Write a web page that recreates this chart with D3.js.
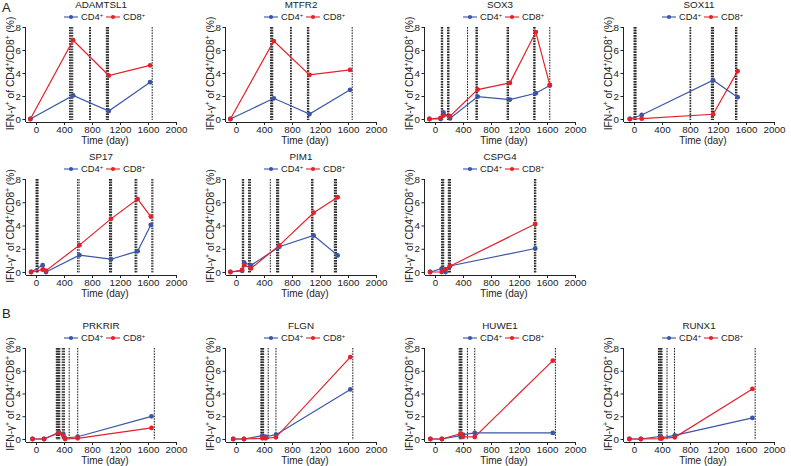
<!DOCTYPE html>
<html><head><meta charset="utf-8">
<script src="https://cdn.jsdelivr.net/npm/d3@7/dist/d3.min.js"></script>
<style>body{margin:0;background:#fff}svg{display:block}text{font-family:"Liberation Sans",Arial,sans-serif;fill:#222}</style>
</head><body><svg id="c" width="791" height="466"></svg>
<script>
// ---- tick labels ----
const xTicks = [0, 400, 800, 1200, 1600, 2000];
const yTicks = [0, 2, 4, 6, 8];
const seriesNames = ["CD4", "CD8"];
const sectionLabels = ["A", "B"];

// ---- data (day, % IFN-γ+) ----
const adamtsl1Days = [-80, 530, 1040, 1630];
const adamtsl1CD4 = [0, 2.05, 0.7, 3.2];
const adamtsl1CD8 = [0, 6.85, 3.78, 4.67];
const adamtsl1Vax = [480, 495, 510, 525, 765, 778, 1005, 1015, 1025, 1035, 1660];

const mtfr2Days = [-80, 540, 1050, 1630];
const mtfr2CD4 = [0, 1.8, 0.43, 2.54];
const mtfr2CD8 = [0, 6.78, 3.84, 4.27];
const mtfr2Vax = [495, 505, 515, 525, 780, 790, 1020, 1030, 1040, 1660];

const sox3Days = [-80, 80, 120, 215, 610, 1070, 1440, 1640];
const sox3CD4 = [0, 0, 0.58, 0.05, 1.95, 1.69, 2.24, 2.91];
const sox3CD8 = [0, 0.1, 0.3, 0.25, 2.56, 3.14, 7.56, 2.97];
const sox3Vax = [90, 100, 110, 180, 190, 200, 465, 585, 595, 605, 1030, 1040, 1050, 1410, 1420, 1430, 1640];

const sox11Days = [-60, 110, 1130, 1480];
const sox11CD4 = [0, 0.35, 3.37, 1.9];
const sox11CD8 = [0, 0.03, 0.41, 4.16];
const sox11Vax = [0, 10, 20, 30, 800, 810, 1105, 1115, 1125, 1135, 1450, 1460, 1470];

const sp17Days = [-70, 95, 143, 620, 1071, 1452, 1640];
const sp17CD4 = [0, 0.58, 0.0, 1.45, 1.1, 1.79, 4.05];
const sp17CD8 = [0, 0.2, 0.12, 2.31, 4.57, 6.27, 4.77];
const sp17Vax = [0, 10, 20, 30, 595, 615, 1050, 1060, 1070, 1080, 1415, 1425, 1440, 1655, 1670];

const pim1Days = [-80, 86, 119, 214, 619, 1109, 1452];
const pim1CD4 = [0, 0.1, 0.8, 0.57, 2.17, 3.14, 1.43];
const pim1CD8 = [0, 0.17, 0.6, 0.31, 2.29, 5.1, 6.43];
const pim1Vax = [90, 100, 110, 180, 195, 205, 490, 580, 590, 600, 610, 1080, 1090, 1100, 1405, 1415, 1425, 1435];

const cspg4Days = [-70, 95, 151, 212, 1432];
const cspg4CD4 = [0, 0.29, 0, 0.52, 2.02];
const cspg4CD8 = [0, 0, 0.25, 0.5, 4.13];
const cspg4Vax = [95, 105, 115, 125, 190, 200, 210, 220, 1420, 1430, 1440];

const prkrirDays = [-50, 116, 326, 390, 415, 595, 1650];
const prkrirCD4 = [0, 0, 0.59, 0.44, 0.08, 0.2, 1.99];
const prkrirCD8 = [0, 0, 0.53, 0.3, 0, 0.06, 0.97];
const prkrirVax = [290, 300, 310, 320, 330, 340, 375, 390, 405, 474, 596, 1690];

const flgnDays = [-40, 114, 377, 423, 571, 1633];
const flgnCD4 = [0, 0, 0.29, 0.2, 0.38, 4.36];
const flgnCD8 = [0, 0, 0.06, 0.06, 0.15, 7.2];
const flgnVax = [355, 365, 375, 385, 395, 460, 571, 1669];

const huwe1Days = [-66, 98, 366, 400, 568, 1683];
const huwe1CD4 = [0, 0, 0.3, 0.38, 0.53, 0.53];
const huwe1CD8 = [0, 0, 0.47, 0.2, 0.18, 6.89];
const huwe1Vax = [345, 355, 365, 375, 385, 463, 568, 1720];

const runx1Days = [-66, 98, 376, 395, 582, 1692];
const runx1CD4 = [0, 0, 0.23, 0.1, 0.32, 1.85];
const runx1CD8 = [0, 0, 0.03, 0.05, 0.15, 4.4];
const runx1Vax = [350, 360, 370, 380, 390, 400, 472, 578, 1731];

const panels = [
  {title: "ADAMTSL1", days: adamtsl1Days, cd4: adamtsl1CD4, cd8: adamtsl1CD8, vax: adamtsl1Vax},
  {title: "MTFR2", days: mtfr2Days, cd4: mtfr2CD4, cd8: mtfr2CD8, vax: mtfr2Vax},
  {title: "SOX3", days: sox3Days, cd4: sox3CD4, cd8: sox3CD8, vax: sox3Vax},
  {title: "SOX11", days: sox11Days, cd4: sox11CD4, cd8: sox11CD8, vax: sox11Vax},
  {title: "SP17", days: sp17Days, cd4: sp17CD4, cd8: sp17CD8, vax: sp17Vax},
  {title: "PIM1", days: pim1Days, cd4: pim1CD4, cd8: pim1CD8, vax: pim1Vax},
  {title: "CSPG4", days: cspg4Days, cd4: cspg4CD4, cd8: cspg4CD8, vax: cspg4Vax},
  {title: "PRKRIR", days: prkrirDays, cd4: prkrirCD4, cd8: prkrirCD8, vax: prkrirVax},
  {title: "FLGN", days: flgnDays, cd4: flgnCD4, cd8: flgnCD8, vax: flgnVax},
  {title: "HUWE1", days: huwe1Days, cd4: huwe1CD4, cd8: huwe1CD8, vax: huwe1Vax},
  {title: "RUNX1", days: runx1Days, cd4: runx1CD4, cd8: runx1CD8, vax: runx1Vax}
];

// ---- layout ----
const colX0 = [36, 236, 435, 634];
const rowY = [[27, 119], [179, 272], [348, 439]];
const grid = [[0,0],[0,1],[0,2],[0,3],[1,0],[1,1],[1,2],[2,0],[2,1],[2,2],[2,3]];
const PX_PER_DAY = 0.07;
const X_MIN = -150;
const BLUE = "#3a56a5", RED = "#e3212a";
const FONT = '"Liberation Sans",Arial,sans-serif';

const svg = d3.select("#c");

function supText(sel, parts, fs) {
  let lastSup = false;
  parts.forEach(([s, sup]) => {
    const t = sel.append("tspan").text(s);
    if (sup) t.attr("dy", -fs * 0.38).attr("font-size", fs * 0.62);
    else if (lastSup) t.attr("dy", fs * 0.38);
    lastSup = sup;
  });
}

panels.forEach((p, i) => {
  const [r, c] = grid[i];
  const x0 = colX0[c];
  const [yTop, yBot] = rowY[r];
  const x = d3.scaleLinear().domain([X_MIN, 2000]).range([x0 + X_MIN * PX_PER_DAY, x0 + 2000 * PX_PER_DAY]);
  const y = d3.scaleLinear().domain([0, 8]).range([yBot, yTop]);
  const axY = yBot + 3;
  const axX = x(X_MIN);
  const g = svg.append("g");

  // vaccination lines
  g.selectAll("line.vax").data(p.vax).join("line")
    .attr("x1", d => x(d)).attr("x2", d => x(d))
    .attr("y1", yTop).attr("y2", yBot + 1)
    .attr("stroke", "#1a1a1a").attr("stroke-width", 1).attr("stroke-dasharray", "1.6,1.1");

  // axes
  const xa = g.append("g").attr("transform", `translate(0,${axY})`)
    .call(d3.axisBottom(x).tickValues(xTicks).tickFormat(d3.format("d")).tickSize(3).tickSizeOuter(0).tickPadding(1));
  xa.selectAll("text").attr("font-size", 9.8).attr("font-family", FONT).attr("fill", "#222");
  xa.selectAll("line,path").attr("stroke", "#222");

  const ya = g.append("g").attr("transform", `translate(${axX},0)`)
    .call(d3.axisLeft(y).tickValues(yTicks).tickFormat(d3.format("d")).tickSize(3).tickPadding(1.5));
  ya.select(".domain").remove();
  ya.selectAll("text").attr("font-size", 9.8).attr("font-family", FONT).attr("fill", "#222");
  ya.selectAll("line").attr("stroke", "#222");
  g.append("line").attr("x1", axX).attr("x2", axX).attr("y1", yTop).attr("y2", axY).attr("stroke", "#222");

  // axis titles
  g.append("text").attr("x", x0 + 69).attr("y", yBot + 25).attr("text-anchor", "middle").attr("font-size", 10).text("Time (day)");
  const yl = g.append("text").attr("transform", `translate(${axX - 12},${(yTop + axY) / 2 - 1}) rotate(-90)`)
    .attr("text-anchor", "middle").attr("font-size", 10.3);
  supText(yl, [["IFN-γ", false], ["+", true], [" of CD4", false], ["+", true], ["/CD8", false], ["+", true], [" (%)", false]], 10.3);

  // title
  g.append("text").attr("x", x0 + 65).attr("y", yTop - 19).attr("text-anchor", "middle").attr("font-size", 9.8).text(p.title);

  // legend
  const lc = x0 + 67, ly = yTop - 10;
  [[BLUE, -39], [RED, 3]].forEach(([col, off], k) => {
    g.append("line").attr("x1", lc + off).attr("x2", lc + off + 14).attr("y1", ly).attr("y2", ly).attr("stroke", col).attr("stroke-width", 1.1);
    g.append("circle").attr("cx", lc + off + 7).attr("cy", ly).attr("r", 2.1).attr("fill", col);
    const t = g.append("text").attr("x", lc + off + 17).attr("y", ly + 3.4).attr("font-size", 9.4);
    supText(t, [[seriesNames[k], false], ["+", true]], 9.4);
  });

  // series
  const line = d3.line().x(d => x(d[0])).y(d => y(d[1]));
  [[p.cd4, BLUE], [p.cd8, RED]].forEach(([vals, col]) => {
    const pts = p.days.map((d, j) => [d, vals[j]]);
    g.append("path").attr("d", line(pts)).attr("fill", "none").attr("stroke", col).attr("stroke-width", 1.2);
    g.selectAll(null).data(pts).join("circle").attr("cx", d => x(d[0])).attr("cy", d => y(d[1])).attr("r", 2.4).attr("fill", col);
  });
});

svg.append("text").attr("x", 2).attr("y", 12).attr("font-size", 13).text(sectionLabels[0]);
svg.append("text").attr("x", 2).attr("y", 318).attr("font-size", 13).text(sectionLabels[1]);
</script></body></html>
